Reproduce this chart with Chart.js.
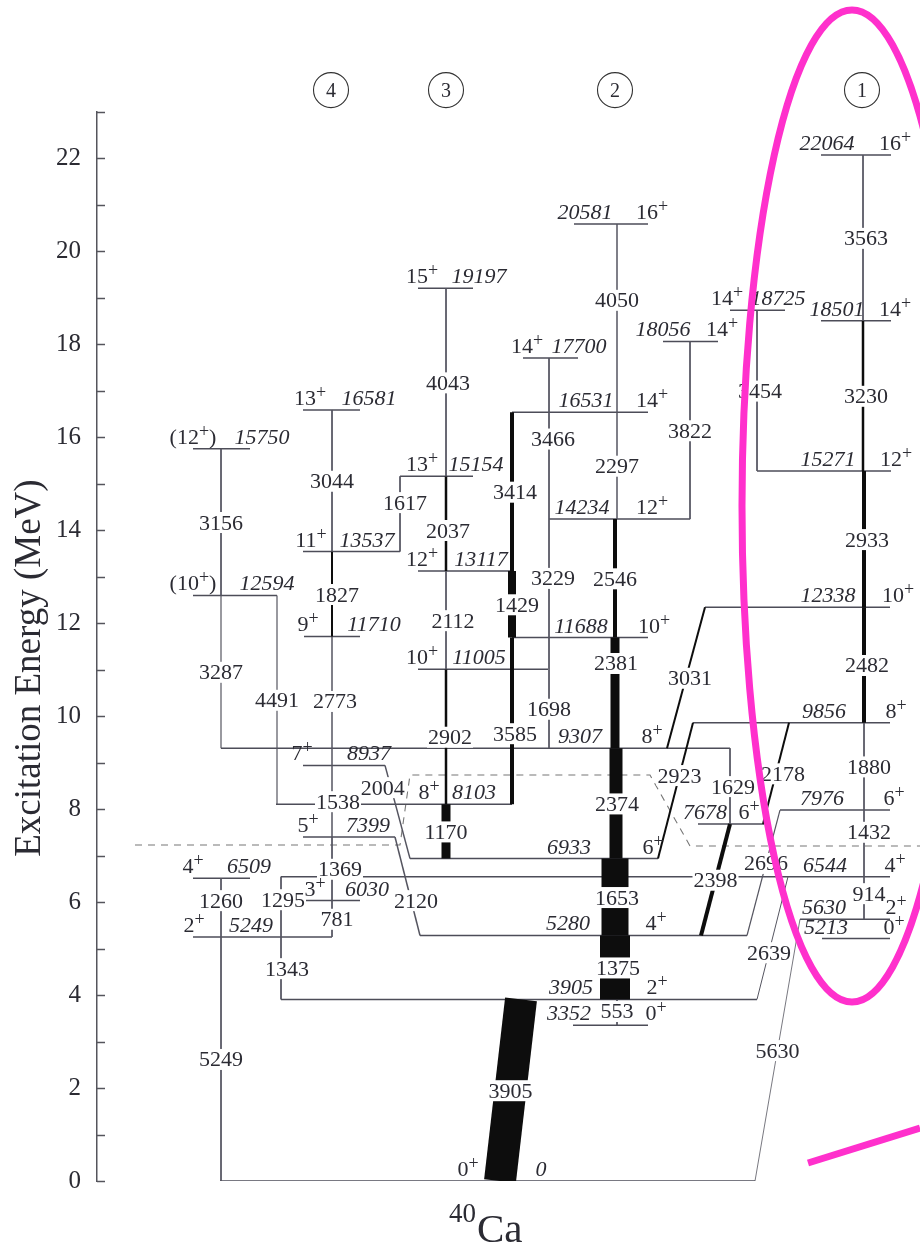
<!DOCTYPE html>
<html>
<head>
<meta charset="utf-8">
<title>40Ca level scheme</title>
<script src="https://cdn.jsdelivr.net/npm/chart.js@4.4.1/dist/chart.umd.min.js"></script>
<style>
  html, body { margin: 0; padding: 0; background: #fff; }
  canvas { display: block; }
</style>
</head>
<body>
<canvas id="scheme" width="920" height="1251"></canvas>
<script>
// ---- Level data: excitation energy (keV) and spin-parity ----
const levelEnergy = [0, 3352, 3905, 5213, 5249, 5280, 5630, 6030, 6509, 6544, 6933, 7399, 7678, 7976,
  8103, 8937, 9307, 9856, 11005, 11688, 11710, 12338, 12594, 13117, 13537, 14234, 15154, 15271,
  15750, 16531, 16581, 17700, 18056, 18501, 18725, 19197, 20581, 22064];
const levelSpin = ['0+', '0+', '2+', '0+', '2+', '4+', '2+', '3+', '4+', '4+', '6+', '5+', '6+', '6+',
  '8+', '7+', '8+', '8+', '10+', '10+', '9+', '10+', '(10+)', '12+', '11+', '12+', '13+', '12+',
  '(12+)', '14+', '13+', '14+', '14+', '14+', '14+', '15+', '16+', '16+'];

// ---- Gamma transitions: energy (keV) and initial level (keV) ----
const gammaEnergy = [5249, 1260, 3156, 3287, 4491, 3044, 1827, 2773, 1538, 1369, 781, 1295, 1343, 1617,
  2004, 2120, 4043, 2037, 2112, 2902, 1170, 3414, 1429, 3585, 3466, 3229, 1698, 4050, 2297, 2546,
  2381, 2374, 1653, 1375, 553, 3905, 3822, 3454, 3563, 3230, 2933, 2482, 1880, 1432, 914, 3031,
  2923, 2178, 1629, 2398, 2696, 2639, 5630];
const gammaFrom = [5249, 6509, 15750, 12594, 12594, 16581, 13537, 11710, 8937, 7399, 6030, 6544, 5249, 15154,
  8937, 7399, 19197, 15154, 13117, 11005, 8103, 16531, 13117, 11688, 17700, 14234, 11005, 20581, 16531, 14234,
  11688, 9307, 6933, 5280, 3905, 3905, 18056, 18725, 22064, 18501, 15271, 12338, 9856, 7976, 6544, 12338,
  9856, 9856, 9307, 7678, 7976, 6544, 5630];

// ---- Axis tick values (MeV) ----
const energyTicks = [0, 2, 4, 6, 8, 10, 12, 14, 16, 18, 20, 22];
const bandNumbers = ['4', '3', '2', '1'];

// ---- Layout: horizontal placement of levels (x1, x2) ----
const levelSpan = [[220, 755], [573, 648], [281, 757], [822, 890], [193, 332], [420, 747], [800, 890],
  [303, 360], [193, 250], [281, 890], [410, 658], [303, 395], [698, 764], [780, 890], [276, 512],
  [303, 385], [221, 730], [693, 890], [418, 548], [512, 648], [304, 360], [705, 890], [193, 277],
  [418, 513], [303, 400], [549, 690], [400, 473], [757, 891], [193, 250], [512, 648], [303, 360],
  [523, 578], [663, 718], [821, 891], [730, 785], [418, 473], [574, 648], [821, 891]];
// label centres: [spin, energy]
const levelLabelX = [[468, 541], [656, 569], [657, 571], [894, 826], [194, 251], [656, 568], [896, 824],
  [315, 367], [193, 249], [895, 825], [653, 569], [308, 368], [749, 705], [894, 822], [429, 474],
  [302, 369], [652, 580], [896, 824], [422, 479], [654, 581], [308, 374], [898, 828], [193, 267],
  [422, 481], [311, 367], [652, 582], [422, 476], [896, 828], [193, 262], [652, 586], [310, 369],
  [527, 579], [722, 663], [895, 837], [727, 778], [422, 479], [652, 585], [895, 827]];

// ---- Layout: transition placement [x at top, x at bottom] and line width ----
const gammaX = [[221, 221], [221, 221], [221, 221], [221, 221], [277, 277], [332, 332], [332, 332], [332, 332],
  [332, 332], [332, 332], [332, 332], [281, 281], [281, 281], [400, 400], [385, 410], [395, 420],
  [446, 446], [446, 446], [446, 446], [446, 446], [446, 446], [512, 512], [512, 512], [512, 512],
  [549, 549], [549, 549], [549, 549], [617, 617], [617, 617], [615, 615], [615, 615], [616, 616],
  [615, 615], [615, 615], [617, 617], [521, 500], [690, 690], [757, 757], [863, 863], [863, 863],
  [864, 864], [864, 864], [864, 864], [864, 864], [864, 864], [705, 667], [693, 658], [789, 763],
  [730, 730], [730, 701], [780, 747], [788, 757], [800, 755]];
const gammaWidth = [1, 1, 1, 1.2, 1.2, 1, 2, 1.5, 1.5, 1, 1, 1, 1, 1, 1.5, 1.5, 1, 2.5, 1, 2.5, 9,
  4, 8, 4, 1, 1, 1, 1.5, 1.5, 4, 9, 13, 27, 30, 1, 32, 1, 1, 1, 2.5, 4, 4, 1, 1, 1, 2, 2, 2, 1, 4,
  1.2, 1, 0.8];
// label placement tweaks: energy height (keV) of the label and x shift
const gammaLabelAt = {
  1260: { e: 6040 }, 1827: { dx: 5 }, 2773: { dx: 3 }, 1538: { dx: 6 }, 1369: { dx: 8 }, 781: { dx: 5 },
  1295: { e: 6060, dx: 2 }, 1343: { dx: 6 }, 1617: { e: 14600, dx: 5 }, 2004: { e: 8470, dx: -8 },
  2120: { e: 6040, dx: 5 }, 4043: { dx: 2 }, 2037: { e: 14000, dx: 2 }, 2112: { dx: 7 }, 2902: { dx: 4 },
  3414: { dx: 3 }, 1429: { dx: 5 }, 3585: { e: 9630, dx: 3 }, 3466: { dx: 4 }, 3229: { e: 12970, dx: 4 },
  4050: { e: 18950 }, 2381: { e: 11140, dx: 1 }, 2374: { dx: 1 }, 1653: { dx: 2 }, 1375: { dx: 3 },
  553: { e: 3656 }, 3454: { dx: 3 }, 3563: { dx: 3 }, 3230: { dx: 3 }, 2933: { dx: 3 }, 2482: { dx: 3 },
  1880: { dx: 5 }, 1432: { e: 7510, dx: 5 }, 914: { e: 6190, dx: 5 }, 3031: { dx: 4 }, 2923: { e: 8730 },
  2178: { dx: 7 }, 1629: { dx: 3 }, 2696: { e: 6840 }, 2639: { e: 4920 }
};
// dashed boundary (x, keV)
const boundaryPath = [[135, 7226], [400, 7226], [410, 8730], [650, 8730], [690, 7205], [920, 7205]];
// band markers above the scheme
const bandMarkerX = [331, 446, 615, 862];

const SERIF = "'Liberation Serif', 'Times New Roman', serif";
const INK = '#2b2b33';
const LEVEL_COLOR = '#4d4d58';

const datasets = [];
levelEnergy.forEach((E, i) => {
  datasets.push({
    data: [{ x: levelSpan[i][0], y: E / 1000 }, { x: levelSpan[i][1], y: E / 1000 }],
    borderColor: LEVEL_COLOR, borderWidth: 1.5, showLine: true, pointRadius: 0, order: 2
  });
});
gammaEnergy.forEach((Eg, i) => {
  const Ei = gammaFrom[i], Ef = Ei - Eg;
  const w = gammaWidth[i];
  datasets.push({
    data: [{ x: gammaX[i][0], y: Ei / 1000 }, { x: gammaX[i][1], y: Ef / 1000 }],
    borderColor: w >= 2 ? '#0d0d0d' : '#555560', borderWidth: w, borderCapStyle: 'butt',
    showLine: true, pointRadius: 0, order: 1
  });
});
datasets.push({
  data: boundaryPath.map(p => ({ x: p[0], y: p[1] / 1000 })),
  borderColor: '#777', borderWidth: 1.1, borderDash: [7, 6], showLine: true, pointRadius: 0,
  tension: 0, order: 3
});

// spin label with a raised parity sign, e.g. "(12+)"
function drawSpin(ctx, s, cx, base) {
  const m = s.match(/^(\(?)(\d+)([+-])(\)?)$/);
  const main = m[1] + m[2], sign = m[3], tail = m[4];
  const normal = `22px ${SERIF}`, small = `18px ${SERIF}`;
  ctx.font = normal; const w1 = ctx.measureText(main).width, w3 = ctx.measureText(tail).width;
  ctx.font = small; const w2 = ctx.measureText(sign).width;
  const x0 = cx - (w1 + w2 + w3) / 2;
  ctx.textAlign = 'left';
  ctx.font = normal; ctx.fillText(main, x0, base);
  ctx.font = small; ctx.fillText(sign, x0 + w1, base - 7);
  ctx.font = normal; ctx.fillText(tail, x0 + w1 + w2, base);
  ctx.textAlign = 'center';
}

const schemePlugin = {
  id: 'schemeText',
  afterDatasetsDraw(chart) {
    const { ctx, scales: { x, y } } = chart;
    const X = v => x.getPixelForValue(v);
    const Y = keV => y.getPixelForValue(keV / 1000);
    ctx.save();
    ctx.textAlign = 'center';
    ctx.textBaseline = 'alphabetic';

    // gamma-ray energies, each set into its transition
    ctx.font = `22px ${SERIF}`;
    gammaEnergy.forEach((Eg, i) => {
      const Ei = gammaFrom[i];
      const tweak = gammaLabelAt[Eg] || {};
      const El = tweak.e !== undefined ? tweak.e : Ei - Eg / 2;
      const t = (Ei - El) / Eg;
      const [xt, xb] = gammaX[i];
      const cx = X(xt + (xb - xt) * t + (tweak.dx || 0));
      const cy = Y(El);
      const txt = String(Eg);
      const w = ctx.measureText(txt).width;
      ctx.fillStyle = '#fff';
      ctx.fillRect(cx - w / 2 - 1, cy - 10, w + 2, 21);
      ctx.fillStyle = INK;
      ctx.fillText(txt, cx, cy + 7.5);
    });

    // level energies (italic) and spins
    levelEnergy.forEach((E, i) => {
      const base = Y(E) - 5;
      const [sx, ex] = levelLabelX[i];
      ctx.fillStyle = INK;
      drawSpin(ctx, levelSpin[i], X(sx), base);
      ctx.font = `italic 22px ${SERIF}`;
      ctx.fillText(String(E), X(ex), base);
    });

    // inward tick marks on the energy axis
    ctx.strokeStyle = '#55555c';
    ctx.lineWidth = 1.5;
    const left = chart.chartArea.left;
    for (let v = 0; v <= 23; v++) {
      const py = Math.round(y.getPixelForValue(v)) + 0.5;
      ctx.beginPath(); ctx.moveTo(left, py); ctx.lineTo(left + 8, py); ctx.stroke();
    }

    // axis title
    ctx.save();
    ctx.fillStyle = INK;
    ctx.font = `37px ${SERIF}`;
    ctx.translate(X(97) - 67, Y(11030));
    ctx.rotate(-Math.PI / 2);
    ctx.textBaseline = 'middle';
    ctx.fillText('Excitation Energy (MeV)', 0, 0);
    ctx.restore();

    // band markers
    ctx.strokeStyle = '#333';
    ctx.lineWidth = 1.1;
    ctx.font = `20px ${SERIF}`;
    bandMarkerX.forEach((bx, i) => {
      const cx = X(bx), cy = Y(23460);
      ctx.beginPath(); ctx.arc(cx, cy, 17.5, 0, Math.PI * 2); ctx.stroke();
      ctx.fillStyle = INK;
      ctx.fillText(bandNumbers[i], cx, cy + 7);
    });

    // nucleus label
    ctx.fillStyle = INK;
    ctx.textAlign = 'left';
    ctx.font = `27px ${SERIF}`;
    ctx.fillText('40', X(449), Y(-880));
    ctx.font = `41px ${SERIF}`;
    ctx.fillText('Ca', X(477), Y(-1310));

    // highlight around band 1
    ctx.strokeStyle = '#ff30cc';
    ctx.lineWidth = 7;
    const ecx = X(852), ecy = Y(14516);
    const rx = X(962) - X(852), ry = Y(14516 - 10667) - ecy;
    ctx.beginPath(); ctx.ellipse(ecx, ecy, rx, ry, 0, 0, Math.PI * 2); ctx.stroke();
    ctx.beginPath(); ctx.moveTo(X(808), Y(387)); ctx.lineTo(X(920), Y(1140)); ctx.stroke();
    ctx.restore();
  }
};

new Chart(document.getElementById('scheme'), {
  type: 'scatter',
  data: { datasets },
  options: {
    responsive: false,
    animation: false,
    devicePixelRatio: 1,
    events: [],
    layout: { padding: { top: 111.5, bottom: 70, left: 0, right: 0 } },
    plugins: { legend: { display: false }, tooltip: { enabled: false } },
    scales: {
      x: { type: 'linear', min: 97, max: 920, display: false },
      y: {
        type: 'linear', min: 0, max: 23,
        afterFit: s => { s.width = 97; },
        grid: { display: false, drawTicks: false },
        border: { display: true, color: '#55555c', width: 1.5 },
        ticks: {
          stepSize: 1, autoSkip: false, padding: 16, color: INK,
          font: { family: SERIF, size: 25 },
          callback: v => (energyTicks.includes(v) ? String(v) : '')
        }
      }
    }
  },
  plugins: [schemePlugin]
});
</script>
</body>
</html>
